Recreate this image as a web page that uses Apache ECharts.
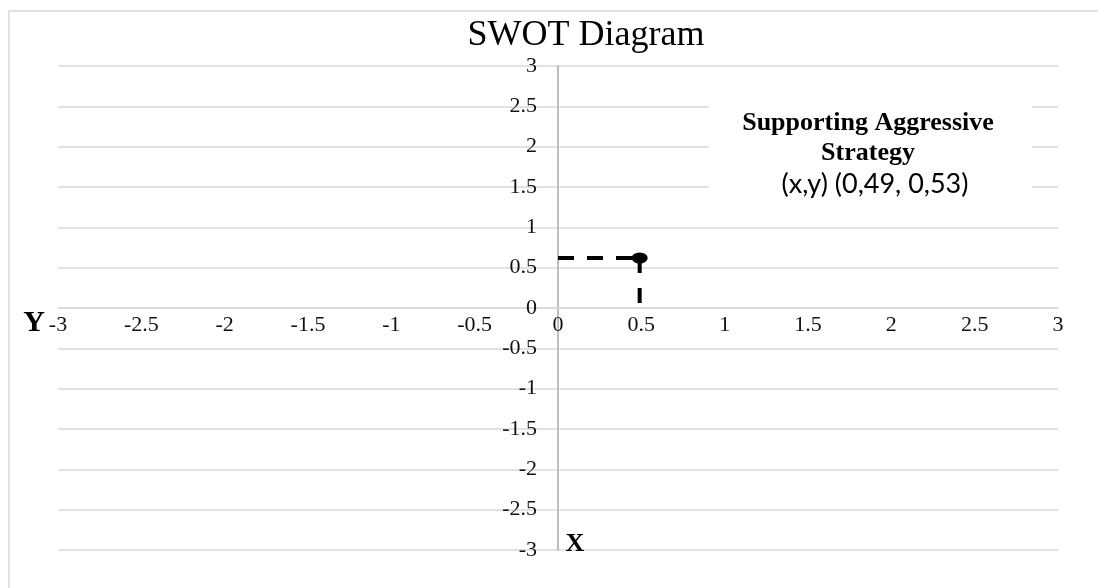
<!DOCTYPE html>
<html>
<head>
<meta charset="utf-8">
<script src="https://cdn.jsdelivr.net/npm/echarts@6/dist/echarts.min.js"></script>
<style>html,body{margin:0;padding:0;background:#fff}#c{width:1098px;height:588px}</style>
</head>
<body>
<div id="c"></div>
<script>
const titleText = 'SWOT Diagram';
const axisMin = -3, axisMax = 3, axisStep = 0.5;
const pointX = [0.49];
const pointY = [0.62];
const noteLines = ['Supporting Aggressive', 'Strategy', '(x,y) (0,49, 0,53)'];
const xAxisTitle = 'X';
const yAxisTitle = 'Y';

const chart = echarts.init(document.getElementById('c'));
const serif = '"Liberation Serif", "Times New Roman", serif';
const px = pointX[0], py = pointY[0];

const gridLeft = 58, gridRight = 40, gridTop = 66, gridBottom = 38;
const gridW = 1098 - gridLeft - gridRight, gridH = 588 - gridTop - gridBottom;
// move axes to the origin (center of the symmetric range)
const yOffset = -gridW * (0 - axisMin) / (axisMax - axisMin);
const xOffset = -gridH * (0 - axisMin) / (axisMax - axisMin);

chart.setOption({
  animation: false,
  backgroundColor: '#fff',
  title: {
    text: titleText, left: 581, top: 13, textAlign: 'center',
    textStyle: { fontFamily: serif, fontSize: 36, fontWeight: 'normal', color: '#000' }
  },
  grid: { left: gridLeft, right: gridRight, top: gridTop, bottom: gridBottom, containLabel: false },
  xAxis: {
    type: 'value', min: axisMin, max: axisMax, interval: axisStep,
    offset: xOffset,
    axisLine: { onZero: false, lineStyle: { color: '#d9d9d9', width: 1.5 } },
    axisTick: { show: false },
    splitLine: { show: false },
    axisLabel: { fontFamily: serif, fontSize: 22, color: '#111', margin: 6 }
  },
  yAxis: {
    type: 'value', min: axisMin, max: axisMax, interval: axisStep,
    offset: yOffset,
    axisLine: { onZero: false, lineStyle: { color: '#bfbfbf', width: 2 } },
    axisTick: { show: false },
    splitLine: { show: true, lineStyle: { color: '#d9d9d9', width: 1.5 } },
    axisLabel: { fontFamily: serif, fontSize: 22, color: '#111', margin: 21 }
  },
  series: [
    {
      type: 'line', data: [[0, py], [px, py]], symbol: 'none', z: 3,
      lineStyle: { color: '#000', width: 4, type: [16, 13] }
    },
    {
      type: 'line', data: [[px, py], [px, 0]], symbol: 'none', z: 3,
      lineStyle: { color: '#000', width: 4, type: [15, 15] }
    },
    {
      type: 'scatter', data: pointX.map((x, i) => [x, pointY[i]]), z: 4,
      symbol: 'circle', symbolSize: [16, 11],
      itemStyle: { color: '#000', opacity: 1 }
    }
  ],
  graphic: [
    { type: 'rect', z: 1, shape: { x: 9, y: 11, width: 1200, height: 700 },
      style: { fill: null, stroke: '#d9d9d9', lineWidth: 1.5 } },
    { type: 'rect', z: 20, shape: { x: 709, y: 94, width: 323, height: 118 },
      style: { fill: '#fff', stroke: null } },
    { type: 'text', z: 21, x: 868, y: 123,
      style: { text: noteLines[0], font: 'bold 26px ' + serif, fill: '#000', align: 'center', verticalAlign: 'middle' } },
    { type: 'text', z: 21, x: 868, y: 153,
      style: { text: noteLines[1], font: 'bold 26px ' + serif, fill: '#000', align: 'center', verticalAlign: 'middle' } },
    { type: 'text', z: 21, x: 875, y: 184,
      style: { text: noteLines[2], font: '27px Lato, "Noto Sans", sans-serif', fill: '#000', align: 'center', verticalAlign: 'middle' } },
    { type: 'text', z: 21, x: 34, y: 323,
      style: { text: yAxisTitle, font: 'bold 30px ' + serif, fill: '#000', align: 'center', verticalAlign: 'middle' } },
    { type: 'text', z: 21, x: 575, y: 544,
      style: { text: xAxisTitle, font: 'bold 26px ' + serif, fill: '#000', align: 'center', verticalAlign: 'middle' } }
  ]
});
</script>
</body>
</html>
